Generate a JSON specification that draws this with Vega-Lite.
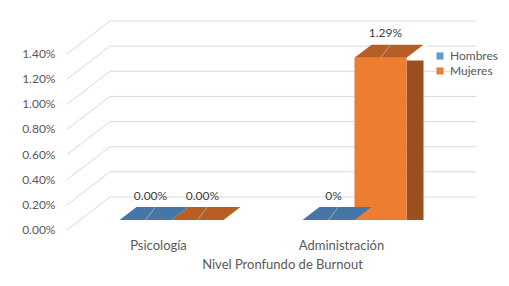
{
  "$schema": "https://vega.github.io/schema/vega-lite/v6.json",
  "width": 366,
  "height": 176,
  "autosize": "none",
  "padding": {"left": 80, "top": 44, "right": 63, "bottom": 66},
  "background": "white",
  "config": {
    "view": {"stroke": null},
    "font": "Lato",
    "axis": {"labelFont": "Lato", "titleFont": "Lato"},
    "legend": {"labelFont": "Lato"}
  },
  "datasets": {
    "main": [
      {"cat": "Psicología", "serie": "Hombres", "value": 0, "label": "0.00%"},
      {"cat": "Psicología", "serie": "Mujeres", "value": 0, "label": "0.00%"},
      {"cat": "Administración", "serie": "Hombres", "value": 0, "label": "0%"},
      {"cat": "Administración", "serie": "Mujeres", "value": 0.0129, "label": "1.29%"}
    ],
    "ticks": [
      {"v": 0}, {"v": 0.002}, {"v": 0.004}, {"v": 0.006},
      {"v": 0.008}, {"v": 0.01}, {"v": 0.012}, {"v": 0.014}
    ]
  },
  "layer": [
    {
      "data": {"name": "ticks"},
      "mark": {"type": "point", "shape": "M-43,33L0,0L366,0", "size": 4, "filled": false, "stroke": "#d9d9d9", "strokeWidth": 1, "opacity": 1, "xOffset": -61.5, "yOffset": -23},
      "encoding": {
        "x": {"datum": "Psicología", "type": "nominal"},
        "y": {
          "field": "v", "type": "quantitative", "title": null,
          "axis": {
            "values": [0, 0.002, 0.004, 0.006, 0.008, 0.01, 0.012, 0.014],
            "format": ".2%", "labelFontSize": 12, "labelColor": "#595959",
            "labelOffset": 9.5, "labelPadding": 25, "labelOverlap": false,
            "domain": false, "ticks": false, "tickSize": 0, "grid": false
          }
        }
      }
    },
    {
      "data": {"name": "main"},
      "transform": [{"filter": "datum.serie === 'Mujeres'"}],
      "mark": {"type": "bar", "width": 17, "xOffset": 60.5, "yOffset": 0, "y2Offset": -13, "color": "#9C4F1F"},
      "encoding": {
        "x": {"field": "cat", "type": "nominal", "sort": ["Psicología", "Administración"], "title": "Nivel Pronfundo de Burnout"},
        "y": {
          "field": "value", "type": "quantitative", "title": null,
          "axis": {
            "values": [0, 0.002, 0.004, 0.006, 0.008, 0.01, 0.012, 0.014],
            "format": ".2%", "labelFontSize": 12, "labelColor": "#595959",
            "labelOffset": 9.5, "labelPadding": 25, "labelOverlap": false,
            "domain": false, "ticks": false, "tickSize": 0, "grid": false
          }
        }
      }
    },
    {
      "data": {"name": "main"},
      "encoding": {
        "x": {
          "field": "cat", "type": "nominal",
          "sort": ["Psicología", "Administración"],
          "scale": {"paddingInner": 0, "paddingOuter": 0},
          "axis": {
            "title": "Nivel Pronfundo de Burnout",
            "titleFontWeight": "normal", "titleFontSize": 13, "titleColor": "#595959",
            "titleX": 202, "titleY": 38, "titleBaseline": "top", "titleAnchor": "middle",
            "labelAngle": 0, "labelAlign": "center", "labelFontSize": 13, "labelColor": "#595959",
            "labelOffset": -13, "labelPadding": 25,
            "domain": false, "ticks": false, "tickSize": 0, "grid": false
          }
        },
        "xOffset": {
          "field": "serie", "type": "nominal",
          "sort": ["Hombres", "Mujeres"],
          "scale": {"paddingInner": 0, "paddingOuter": 0.76}
        },
        "y": {
          "field": "value", "type": "quantitative", "title": null,
          "scale": {"domain": [0, 0.014], "nice": false, "zero": true},
          "axis": {
            "values": [0, 0.002, 0.004, 0.006, 0.008, 0.01, 0.012, 0.014],
            "format": ".2%", "labelFontSize": 12, "labelColor": "#595959",
            "labelOffset": 9.5, "labelPadding": 25, "labelOverlap": false,
            "domain": false, "ticks": false, "tickSize": 0, "grid": false
          }
        }
      },
      "layer": [
        {
          "mark": {"type": "point", "shape": "M1,0L1.654,-0.5L1.8,-0.5L1.8,0.1L1,0.1Z", "size": 2704, "filled": true, "opacity": 1, "strokeWidth": 0, "color": "white"}
        },
        {
          "mark": {"type": "bar"},
          "encoding": {
            "color": {
              "field": "serie", "type": "nominal",
              "scale": {"domain": ["Hombres", "Mujeres"], "range": ["#5B9BD5", "#ED7D31"]},
              "legend": {
                "title": null, "orient": "none", "legendX": 354, "legendY": 6,
                "symbolType": "square", "symbolSize": 50, "symbolStrokeWidth": 0,
                "labelFontSize": 12, "labelColor": "#595959", "labelOffset": 4,
                "rowPadding": 3, "padding": 0
              }
            }
          }
        },
        {
          "mark": {"type": "point", "shape": "M-1,0L1,0L1.654,-0.5L-0.346,-0.5Z", "size": 2704, "filled": true, "opacity": 1, "strokeWidth": 0},
          "encoding": {
            "color": {"condition": {"test": "datum.serie === 'Hombres'", "value": "#4676A6"}, "value": "#B65E24"}
          }
        },
        {
          "mark": {"type": "point", "shape": "M0,0L0.38,-0.5", "size": 2704, "filled": false, "opacity": 1, "stroke": "#a6a6a6", "strokeWidth": 1}
        },
        {
          "mark": {"type": "text", "baseline": "middle", "align": "center", "fontSize": 12, "color": "#404040", "dx": 5, "dy": -24.5},
          "encoding": {"text": {"field": "label"}}
        }
      ]
    }
  ]
}
